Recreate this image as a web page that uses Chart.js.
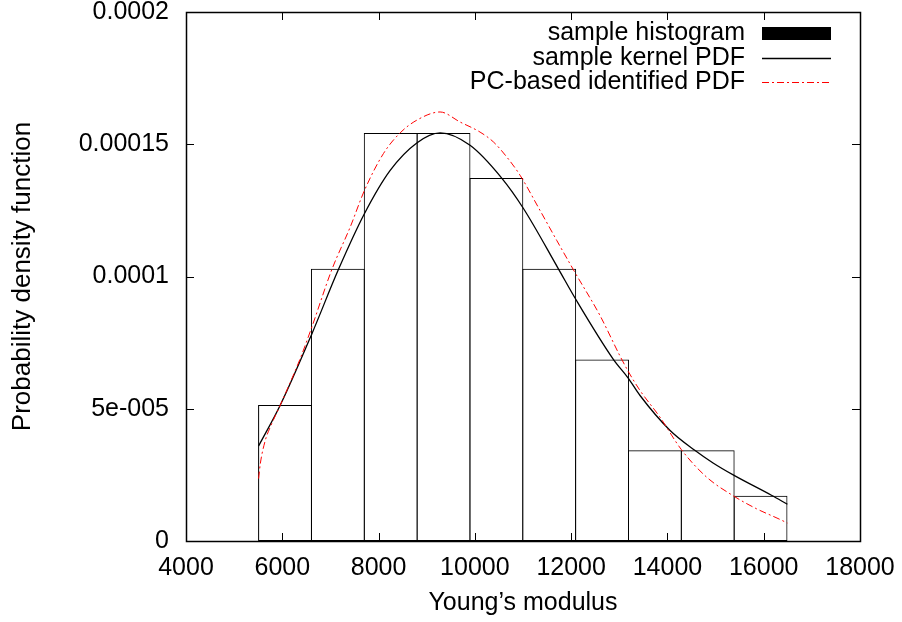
<!DOCTYPE html>
<html>
<head>
<meta charset="utf-8">
<script src="https://cdn.jsdelivr.net/npm/chart.js@4/dist/chart.umd.min.js"></script>
<style>
  html, body { margin: 0; padding: 0; background: #fff; }
  #wrap { width: 902px; height: 622px; position: relative; }
</style>
</head>
<body>
<div id="wrap"><canvas id="chart"></canvas></div>
<script>
// histogram bins (centres) and densities
const binCenters = [6057, 7154.5, 8252, 9349.5, 10447, 11544.5, 12642, 13739.5, 14837, 15934.5];
const histValues = [5.14e-5, 1.029e-4, 1.543e-4, 1.543e-4, 1.372e-4, 1.029e-4, 6.86e-5, 3.43e-5, 3.43e-5, 1.71e-5];

// sample kernel PDF
const kernelX = [5508, 5959, 6616, 7168, 7708, 8241, 8794, 9278, 9900, 10558, 11006, 11732, 12093, 12873, 13193, 13427, 14050, 14568, 14948, 15384, 16160, 16492];
const kernelY = [3.59e-5, 5.14e-5, 7.84e-5, 1.027e-4, 1.238e-4, 1.401e-4, 1.505e-4, 1.543e-4, 1.496e-4, 1.372e-4, 1.258e-4, 1.03e-4, 9.15e-5, 6.88e-5, 6.14e-5, 5.51e-5, 4.19e-5, 3.43e-5, 2.95e-5, 2.48e-5, 1.73e-5, 1.39e-5];

// PC-based identified PDF
const pcX = [5508, 5544, 5648, 5751, 5959, 6373, 6616, 7031, 7411, 7708, 8102, 8448, 8794, 9278, 9693, 10108, 10384, 10662, 10938, 11353, 11699, 12093, 12598, 13013, 13193, 13427, 13842, 14292, 14811, 15384, 15849, 16297, 16492];
const pcY = [2.36e-5, 2.93e-5, 3.81e-5, 4.31e-5, 5.14e-5, 6.9e-5, 8.1e-5, 1.027e-4, 1.187e-4, 1.326e-4, 1.465e-4, 1.543e-4, 1.591e-4, 1.622e-4, 1.584e-4, 1.546e-4, 1.509e-4, 1.452e-4, 1.383e-4, 1.250e-4, 1.137e-4, 1.011e-4, 8.53e-5, 7.0e-5, 6.39e-5, 5.7e-5, 4.69e-5, 3.45e-5, 2.42e-5, 1.69e-5, 1.22e-5, 8.5e-6, 6.8e-6];

const yTickLabels = ['0', '5e-005', '0.0001', '0.00015', '0.0002'];
const legendLabels = ['sample histogram', 'sample kernel PDF', 'PC-based identified PDF'];

const FONT = 'Liberation Sans, Arial, sans-serif';
const toPoints = (xs, ys) => xs.map((x, i) => ({ x: x, y: ys[i] }));

// gnuplot style frame: box, inward ticks on all sides, and legend
const framePlugin = {
    id: 'frame',
    afterDraw(chart) {
        const { ctx, chartArea: a, scales } = chart;
        const tl = 8;
        ctx.save();
        ctx.strokeStyle = '#000';
        ctx.lineWidth = 1;
        ctx.beginPath();
        scales.x.ticks.forEach(t => {
            const px = Math.round(scales.x.getPixelForValue(t.value)) + 0.5;
            ctx.moveTo(px, a.bottom); ctx.lineTo(px, a.bottom - tl);
            ctx.moveTo(px, a.top); ctx.lineTo(px, a.top + tl);
        });
        scales.y.ticks.forEach(t => {
            const py = Math.round(scales.y.getPixelForValue(t.value)) + 0.5;
            ctx.moveTo(a.left, py); ctx.lineTo(a.left + tl, py);
            ctx.moveTo(a.right, py); ctx.lineTo(a.right - tl, py);
        });
        ctx.stroke();
        ctx.lineWidth = 1.5;
        ctx.strokeRect(Math.round(a.left) + 0.5, Math.round(a.top) + 0.5,
            Math.round(a.right - a.left), Math.round(a.bottom - a.top));

        // legend
        const textRight = 745, sx0 = 762, sx1 = 831;
        const rows = [33, 58, 82];
        ctx.font = '25px ' + FONT;
        ctx.fillStyle = '#000';
        ctx.textAlign = 'right';
        ctx.textBaseline = 'middle';
        legendLabels.forEach((lab, i) => ctx.fillText(lab, textRight, rows[i]));
        ctx.fillRect(sx0, rows[0] - 6, sx1 - sx0, 13);
        ctx.beginPath();
        ctx.lineWidth = 1.3;
        ctx.moveTo(sx0, rows[1] + 0.5); ctx.lineTo(sx1, rows[1] + 0.5);
        ctx.stroke();
        ctx.beginPath();
        ctx.strokeStyle = '#f00';
        ctx.lineWidth = 1;
        ctx.setLineDash([7, 3, 2, 3]);
        ctx.moveTo(sx0, rows[2] + 0.5); ctx.lineTo(sx1, rows[2] + 0.5);
        ctx.stroke();
        ctx.restore();
    }
};

new Chart(document.getElementById('chart'), {
    type: 'bar',
    data: {
        datasets: [
            {
                type: 'line',
                label: legendLabels[1],
                data: toPoints(kernelX, kernelY),
                borderColor: '#000',
                borderWidth: 1.3,
                pointRadius: 0,
                cubicInterpolationMode: 'monotone',
                order: 1
            },
            {
                type: 'line',
                label: legendLabels[2],
                data: toPoints(pcX, pcY),
                borderColor: '#f00',
                borderWidth: 1,
                borderDash: [7, 3, 2, 3],
                pointRadius: 0,
                cubicInterpolationMode: 'monotone',
                order: 0
            },
            {
                label: legendLabels[0],
                data: toPoints(binCenters, histValues),
                backgroundColor: 'rgba(0,0,0,0)',
                borderColor: '#000',
                borderWidth: 1,
                borderSkipped: false,
                // slightly wider than the bin so neighbouring inset borders overlap
                barPercentage: 1.019,
                categoryPercentage: 1,
                order: 2
            }
        ]
    },
    options: {
        responsive: true,
        maintainAspectRatio: false,
        animation: false,
        layout: { padding: { left: 0, right: 42, top: 12, bottom: 0 } },
        plugins: { legend: { display: false }, tooltip: { enabled: false } },
        scales: {
            x: {
                type: 'linear',
                min: 4000,
                max: 18000,
                offset: false,
                grid: { display: false, drawTicks: false, offset: false },
                border: { display: false },
                ticks: {
                    stepSize: 2000,
                    padding: 12,
                    color: '#000',
                    font: { family: FONT, size: 25 },
                    maxRotation: 0,
                    callback: v => String(v)
                },
                title: {
                    display: true,
                    text: 'Young\u2019s modulus',
                    color: '#000',
                    font: { family: FONT, size: 25 },
                    padding: { top: 0, bottom: 4 }
                },
                afterFit: s => { s.height = 81; s.paddingLeft = 0; s.paddingRight = 0; }
            },
            y: {
                min: 0,
                max: 0.0002,
                grid: { display: false, drawTicks: false },
                border: { display: false },
                ticks: {
                    stepSize: 0.00005,
                    padding: 17,
                    color: '#000',
                    font: { family: FONT, size: 25 },
                    callback: (v, i) => yTickLabels[i]
                },
                title: {
                    display: true,
                    text: 'Probability density function',
                    color: '#000',
                    font: { family: FONT, size: 26 },
                    padding: { top: 7, bottom: 0 }
                },
                afterFit: s => { s.width = 186; s.paddingTop = 0; s.paddingBottom = 0; }
            }
        }
    },
    plugins: [framePlugin]
});
</script>
</body>
</html>
